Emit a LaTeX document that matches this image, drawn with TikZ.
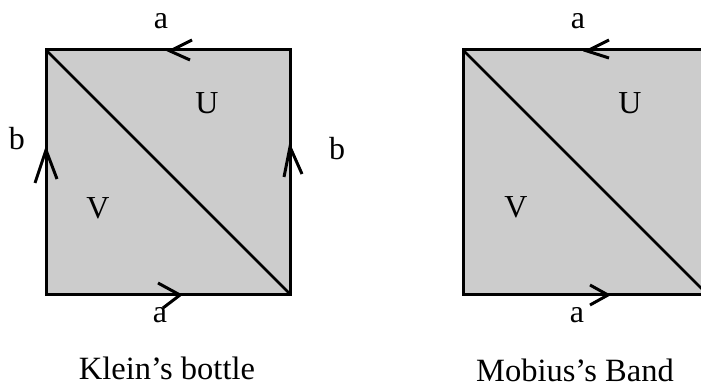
\documentclass[tikz,border=0pt]{standalone}
\usepackage{fontspec}
\setmainfont{Liberation Serif}
\begin{document}
\begin{tikzpicture}[x=1pt,y=-1pt,
  sq/.style={draw=black,fill={rgb,255:red,204;green,204;blue,204},line width=3pt,line join=miter},
  diag/.style={draw=black,line width=2.8pt},
  chev/.style={draw=black,line width=3pt,line join=miter},
  lbl/.style={inner sep=0pt,font=\fontsize{32}{34}\selectfont},
  captext/.style={inner sep=0pt,anchor=base,font=\fontsize{32.5}{34}\selectfont}]
\useasboundingbox (0,0) rectangle (701,387);
\clip (0,0) rectangle (701,387);
% Klein's bottle
\coordinate (k1) at (46,50);
\coordinate (k2) at (290,294);
\path[sq] (k1) rectangle (k2);
\draw[diag] (k1) -- (k2);
\draw[chev] (192,40) -- (170,51) -- (190,60);
\draw[chev] (35,183) -- (46,150) -- (57,179);
\draw[chev] (284,177) -- (290,147) -- (302,174);
\draw[chev] (158,283) -- (180,295) -- (163,308);
\node[lbl] (ka1) at (161,21) {a};
\node[lbl] (kb1) at (17,139) {b};
\node[lbl] (kb2) at (337,149) {b};
\node[lbl] (kU) at (207,103) {U};
\node[lbl] (kV) at (98,208) {V};
\node[lbl] (ka2) at (160,315) {a};
\node[captext] (kc) at (167,379) {Klein’s bottle};
% Mobius band
\coordinate (m1) at (463,50);
\coordinate (m2) at (707,294);
\path[sq] (m1) rectangle (m2);
\draw[diag] (m1) -- (m2);
\draw[chev] (609,40) -- (587,51) -- (609,58);
\draw[chev] (590,285) -- (608,295) -- (590,305);
\node[lbl] (ma1) at (578,21) {a};
\node[lbl] (mU) at (630,103) {U};
\node[lbl] (mV) at (516,207) {V};
\node[lbl] (ma2) at (577,315) {a};
\node[captext] (mc) at (575,381) {Mobius’s Band};
\end{tikzpicture}
\end{document}
